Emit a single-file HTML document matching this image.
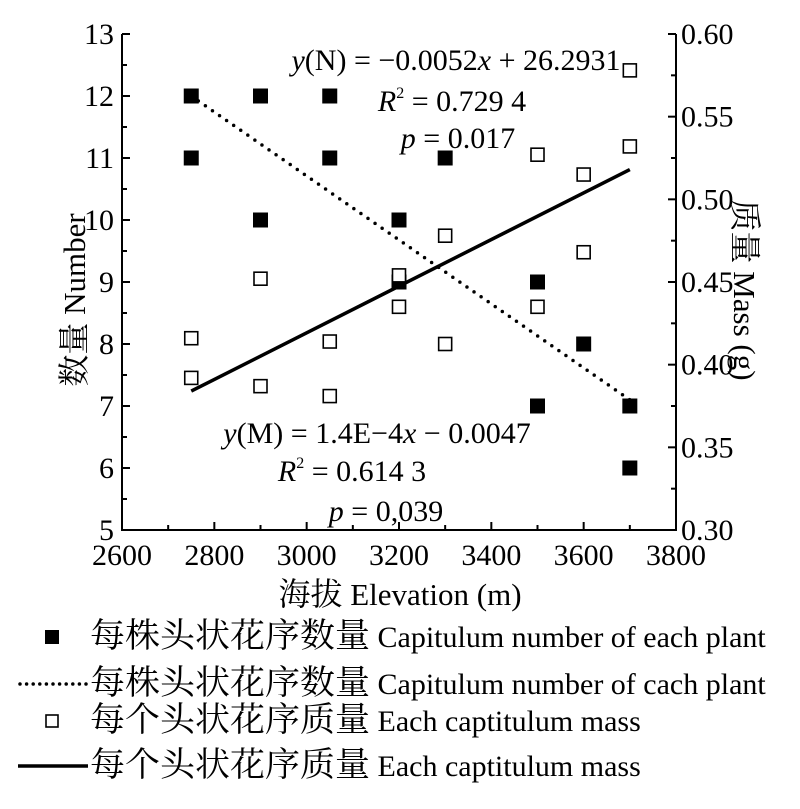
<!DOCTYPE html>
<html><head><meta charset="utf-8"><style>
body{margin:0;background:#fff;}
svg text{font-family:"Liberation Serif","Noto Serif CJK SC","Noto Sans CJK SC",serif;fill:#000;}
.cj{font-family:"Noto Serif CJK SC","Noto Sans CJK SC",serif;}
</style></head><body>
<svg id="chart" width="800" height="804" viewBox="0 0 800 804" xmlns="http://www.w3.org/2000/svg"></svg>
<script>
const numX=[2750,2750,2900,2900,3050,3050,3200,3200,3300,3500,3500,3600,3700,3700];
const numY=[12,11,12,10,12,11,10,9,11,9,7,8,7,6];
const massX=[2750,2750,2900,2900,3050,3050,3200,3200,3300,3300,3500,3500,3600,3600,3700,3700];
const massY=[0.416,0.392,0.452,0.387,0.414,0.381,0.454,0.435,0.478,0.4125,0.527,0.435,0.515,0.468,0.578,0.532];
const fitX=[2750,3700];
const fitN=[12.0,7.1];
const fitM=[0.384,0.518];
const xTicks=[2600,2800,3000,3200,3400,3600,3800];
const yTicks=[5,6,7,8,9,10,11,12,13];
const y2Ticks=["0.30","0.35","0.40","0.45","0.50","0.55","0.60"];
const NS="http://www.w3.org/2000/svg";
const svg=document.getElementById('chart');
const L=122,R=676,T=34,B=530;
const xs=v=>L+(v-2600)/(1200)*(R-L);
const ys=v=>B-(v-5)/8*(B-T);
const ys2=v=>B-(v-0.30)/0.30*(B-T);
function mk(tag,a,txt){const e=document.createElementNS(NS,tag);for(const k in a)e.setAttribute(k,a[k]);if(txt!==undefined)e.textContent=txt;svg.appendChild(e);return e;}
let e;
e=mk('path',{d:`M${L},${T}V${B}H${R}V${T}`,fill:'none',stroke:'#000','stroke-width':2});

for(let v=5;v<=13;v+=0.5){const y=ys(v);const len=(v%1===0)?8:5;
e=mk('line',{x1:L,x2:L+len,y1:y,y2:y,stroke:'#000','stroke-width':2});}
yTicks.forEach(v=>{e=mk('text',{x:L-8,y:ys(v)+10,'font-size':30,'text-anchor':'end'},v);});
for(let i=0;i<=12;i++){const v=0.30+i*0.025;const y=ys2(v);const len=(i%2===0)?8:5;
e=mk('line',{x1:R-len,x2:R,y1:y,y2:y,stroke:'#000','stroke-width':2});}
y2Ticks.forEach(s=>{e=mk('text',{x:R+5,y:ys2(parseFloat(s))+10,'font-size':30},s);});
for(let v=2600;v<=3800;v+=100){const x=xs(v);const len=(v%200===0)?8:5;
e=mk('line',{x1:x,x2:x,y1:B-len,y2:B,stroke:'#000','stroke-width':2});}
xTicks.forEach(v=>{e=mk('text',{x:xs(v),y:B+35,'font-size':30,'text-anchor':'middle'},v);});
e=mk('text',{x:400,y:605,'font-size':31,'text-anchor':'middle'});e.innerHTML='<tspan class="cj" font-size="32">海拔</tspan>  Elevation (m)';
e=mk('text',{x:0,y:0,'font-size':31,'text-anchor':'middle',transform:'translate(85,300) rotate(-90)'});e.innerHTML='<tspan class="cj" font-size="32">数量</tspan>  Number';
e=mk('text',{x:0,y:0,'font-size':31,'text-anchor':'middle',transform:'translate(734,290) rotate(90)'});e.innerHTML='<tspan class="cj" font-size="32">质量</tspan>  Mass (g)';
e=mk('line',{x1:xs(fitX[0]),y1:ys(fitN[0]),x2:xs(fitX[1]),y2:ys(fitN[1]),stroke:'#000','stroke-width':3.5,'stroke-dasharray':'0 8.6','stroke-linecap':'round'});

e=mk('line',{x1:xs(fitX[0]),y1:ys2(fitM[0]),x2:xs(fitX[1]),y2:ys2(fitM[1]),stroke:'#000','stroke-width':3.5});

numX.forEach((x,i)=>{e=mk('rect',{x:xs(x)-7.5,y:ys(numY[i])-7.5,width:15,height:15,fill:'#000'});
});
massX.forEach((x,i)=>{e=mk('rect',{x:xs(x)-6.5,y:ys2(massY[i])-6.5,width:13,height:13,fill:'#fff',stroke:'#000','stroke-width':1.6});
});
function ann(x,y,html,name){const t=mk('text',{x:x,y:y,'font-size':30,'text-anchor':'middle'});t.innerHTML=html;}
ann(456,70,'<tspan font-style="italic">y</tspan>(N) = −0.0052<tspan font-style="italic">x</tspan> + 26.2931','number-equation');
ann(452,111,'<tspan font-style="italic">R</tspan><tspan font-size="16" dy="-13">2</tspan><tspan dy="13"> = 0.729 4</tspan>','number-r2');
ann(458,148,'<tspan font-style="italic">p</tspan> = 0.017','number-p');
ann(377,443,'<tspan font-style="italic">y</tspan>(M) = 1.4E−4<tspan font-style="italic">x</tspan> − 0.0047','mass-equation');
ann(352,481,'<tspan font-style="italic">R</tspan><tspan font-size="16" dy="-13">2</tspan><tspan dy="13"> = 0.614 3</tspan>','mass-r2');
ann(386,521,'<tspan font-style="italic">p</tspan> = 0,039','mass-p');
const leg=[[637,'sq','每株头状花序数量',' Capitulum number of each plant'],[684,'dot','每株头状花序数量',' Capitulum number of cach plant'],[721,'osq','每个头状花序质量',' Each captitulum mass'],[766,'line','每个头状花序质量',' Each captitulum mass']];
leg.forEach(l=>{const y=l[0];
if(l[1]==='sq'){e=mk('rect',{x:45,y:y-7,width:14,height:14,fill:'#000'});}
else if(l[1]==='osq'){e=mk('rect',{x:46,y:y-6,width:12,height:12,fill:'#fff',stroke:'#000','stroke-width':1.6});}
else if(l[1]==='dot'){e=mk('line',{x1:20,x2:86,y1:y,y2:y,stroke:'#000','stroke-width':3.5,'stroke-dasharray':'0 6.6','stroke-linecap':'round'});}
else {e=mk('line',{x1:18,x2:88,y1:y,y2:y,stroke:'#000','stroke-width':3.5});}

e=mk('text',{x:90,y:y+10,'font-size':30});e.innerHTML='<tspan class="cj" font-size="34" textLength="280" lengthAdjust="spacingAndGlyphs">'+l[2]+'</tspan><tspan>'+l[3]+'</tspan>';
});
</script>
</body></html>
